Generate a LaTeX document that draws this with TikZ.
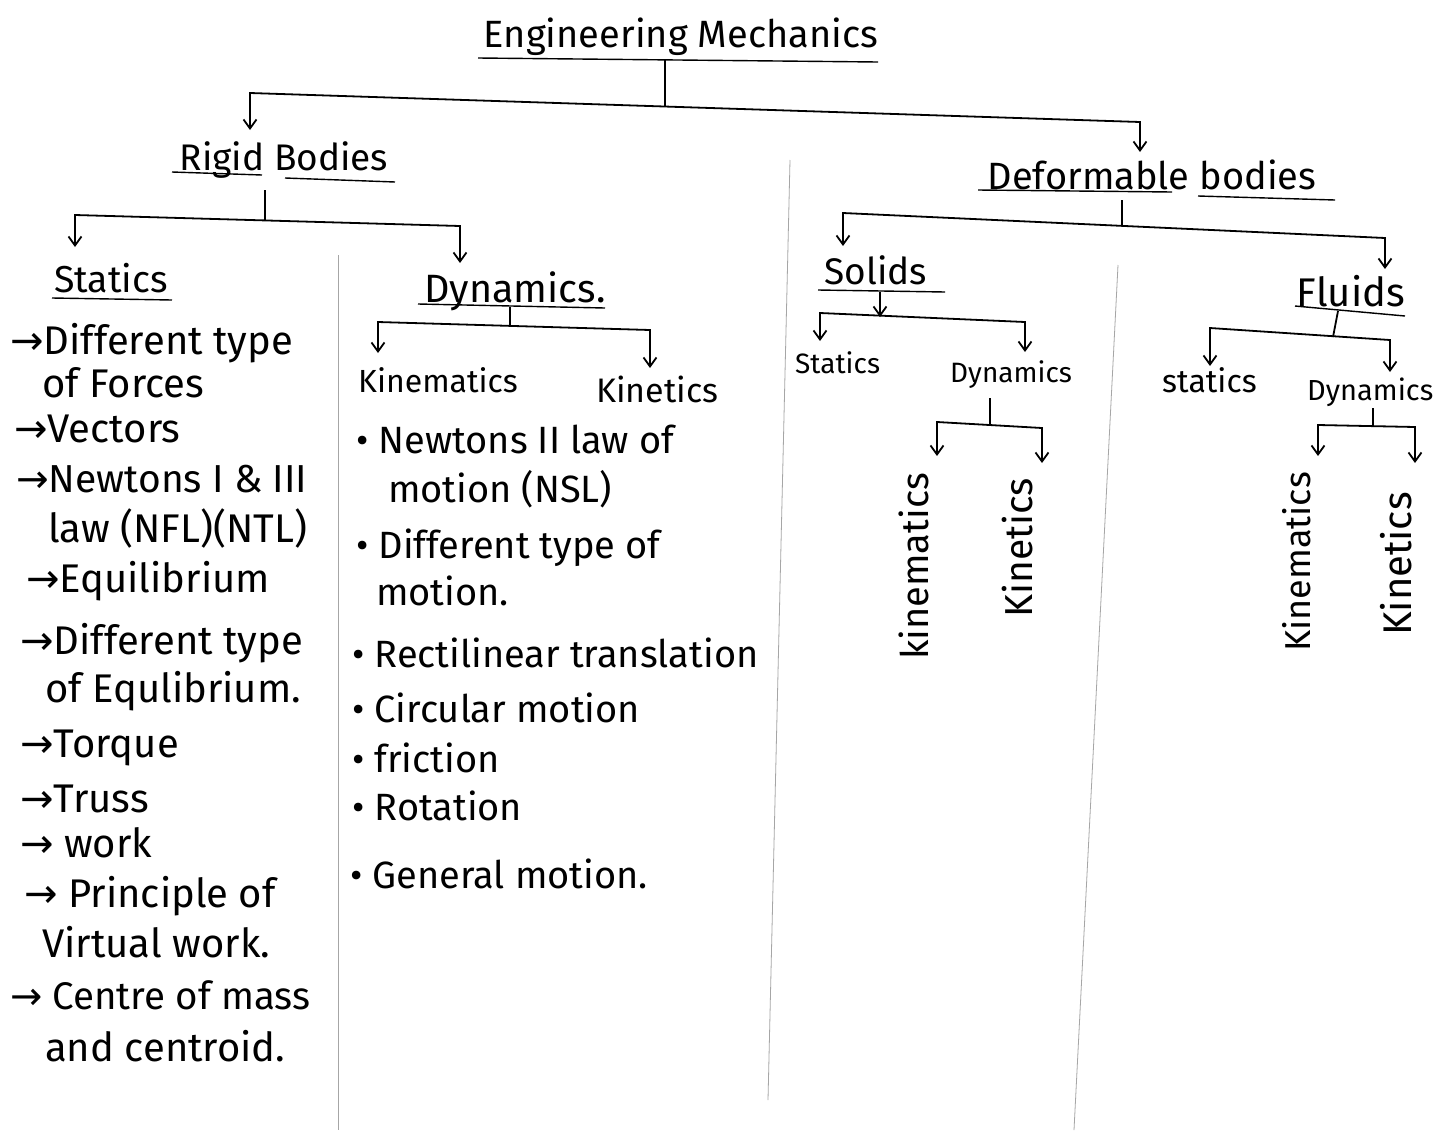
\documentclass[tikz,border=0pt]{standalone}
\usepackage{fontspec}
\setmainfont{Fira Sans}
\newfontfamily\arrfont{DejaVu Sans}
\newcommand{\rarr}{{\arrfont →}}
\usetikzlibrary{arrows.meta}
\begin{document}
\begin{tikzpicture}[x=1pt,y=-1pt,
  txt/.style={inner sep=0pt, anchor=mid west, font=\fontsize{#1}{#1}\selectfont},
  ctr/.style={inner sep=0pt, anchor=mid, font=\fontsize{#1}{#1}\selectfont},
  vtxt/.style={inner sep=0pt, anchor=mid west, rotate=90, font=\fontsize{#1}{#1}\selectfont},
  ink/.style={line width=1.8pt, black},
  uline/.style={line width=1.4pt, black},
  sep/.style={line width=0.8pt, black!35},
  tip/.style={ink, -{Straight Barb[length=9pt,width=13pt]}},
  twotip/.style={ink, {Straight Barb[length=9pt,width=13pt]}-{Straight Barb[length=9pt,width=13pt]}}
]
\fill[white] (0,0) rectangle (1454,1130);
\useasboundingbox (0,0) rectangle (1454,1130);

% separators
\draw[sep] (338,255) -- (338,1130);
\draw[sep] (790,160) -- (768,1100);
\draw[sep] (1118,265) -- (1074,1130);

% headings
\node[ctr=38] (em) at (681,45) {Engineering Mechanics};
\node[ctr=37] (rb) at (284,168) {Rigid Bodies};
\node[ctr=38] (db) at (1152,187) {Deformable bodies};
\node[ctr=37.5] (st) at (111,290) {Statics};
\node[ctr=39.5] (dy) at (515,300) {Dynamics.};
\node[txt=32] (km) at (358,390) {Kinematics};
\node[txt=34] (kt) at (596,400) {Kinetics};
\node[ctr=37] (so) at (876,282) {Solids};
\node[ctr=40] (fl) at (1351,304) {Fluids};
\node[txt=28] (sost) at (795,371) {Statics};
\node[txt=28] (sody) at (950,380) {Dynamics};
\node[txt=32] (flst) at (1162,390) {statics};
\node[txt=29] (fldy) at (1307,398) {Dynamics};
\node[vtxt=38] (sokm) at (926,660) {kinematics};
\node[vtxt=39] (sokt) at (1030,618) {Kinetics};
\node[vtxt=36] (flkm) at (1308,652) {Kinematics};
\node[vtxt=40] (flkt) at (1409,636) {Kinetics};

% underlines
\draw[uline] (478,58) -- (878,62);
\draw[uline] (172,172) -- (262,175);
\draw[uline] (285,178) -- (395,182);
\draw[uline] (52,298) -- (172,300);
\draw[uline] (418,304) -- (605,308);
\draw[uline] (978,190) -- (1172,192);
\draw[uline] (1198,196) -- (1335,200);
\draw[uline] (818,290) -- (945,292);
\draw[uline] (1295,306) -- (1405,316);

% statics list
\node[txt=40] (l1) at (10,352) {\rarr Different type};
\node[txt=40] (l2) at (42,395) {of Forces};
\node[txt=40] (l3) at (14,440) {\rarr Vectors};
\node[txt=39] (l4) at (16,490) {\rarr Newtons I \& III};
\node[txt=40] (l5) at (48,540) {law (NFL)(NTL)};
\node[txt=40] (l6) at (26,590) {\rarr Equilibrium};
\node[txt=40] (l7) at (20,652) {\rarr Different type};
\node[txt=40] (l8) at (45,700) {of Equlibrium.};
\node[txt=40] (l9) at (20,755) {\rarr Torque};
\node[txt=40] (l10) at (20,810) {\rarr Truss};
\node[txt=40] (l11) at (20,855) {\rarr\ work};
\node[txt=40] (l12) at (24,905) {\rarr\ Principle of};
\node[txt=40] (l13) at (42,955) {Virtual work.};
\node[txt=38.5] (l14) at (10,1007) {\rarr\ Centre of mass};
\node[txt=40] (l15) at (45,1059) {and centroid.};

% dynamics list
\node[txt=38] (m1) at (356,451) {• Newtons II law of};
\node[txt=38] (m2) at (388,500) {motion (NSL)};
\node[txt=38] (m3) at (356,556) {• Different type of};
\node[txt=38] (m4) at (376,603) {motion.};
\node[txt=38] (m5) at (352,665) {• Rectilinear translation};
\node[txt=38] (m6) at (352,720) {• Circular motion};
\node[txt=38] (m7) at (352,770) {• friction};
\node[txt=38] (m8) at (352,818) {• Rotation};
\node[txt=38] (m9) at (350,886) {• General motion.};

% connector coordinates
\coordinate (emU) at (665,60);
\coordinate (emJ) at (665,106);
\coordinate (rbA) at (250,93);   \coordinate (rbT) at (250,130);
\coordinate (dbA) at (1140,122); \coordinate (dbT) at (1140,152);

\coordinate (rbU) at (265,190);  \coordinate (rbJ) at (265,220);
\coordinate (stA) at (75,215);   \coordinate (stT) at (75,247);
\coordinate (dyA) at (460,226);  \coordinate (dyT) at (460,263);

\coordinate (dyU) at (510,307);  \coordinate (dyJ) at (510,326);
\coordinate (kmA) at (378,322);  \coordinate (kmT) at (378,353);
\coordinate (ktA) at (650,330);  \coordinate (ktT) at (650,368);

\coordinate (dbU) at (1122,200); \coordinate (dbJ) at (1122,226);
\coordinate (soA) at (843,213);  \coordinate (soT) at (843,246);
\coordinate (flA) at (1385,238); \coordinate (flT) at (1385,269);

\coordinate (soU) at (880,292);  \coordinate (soJ) at (880,317);
\coordinate (sostA) at (820,313); \coordinate (sostT) at (820,341);
\coordinate (sodyA) at (1025,322); \coordinate (sodyT) at (1025,352);

\coordinate (flU) at (1338,311); \coordinate (flJ) at (1333,337);
\coordinate (flstA) at (1210,328); \coordinate (flstT) at (1210,366);
\coordinate (fldyA) at (1390,340); \coordinate (fldyT) at (1390,372);

\coordinate (sodyU) at (990,398); \coordinate (sodyJ) at (990,425);
\coordinate (sokmA) at (937,422); \coordinate (sokmT) at (937,456);
\coordinate (soktA) at (1042,428); \coordinate (soktT) at (1042,463);

\coordinate (fldyU) at (1373,408); \coordinate (fldyJ) at (1373,426);
\coordinate (flkmA) at (1318,425); \coordinate (flkmT) at (1318,456);
\coordinate (flktA) at (1415,427); \coordinate (flktT) at (1415,463);

% connectors
\draw[ink] (emU) -- (emJ);
\draw[twotip] (rbT) -- (rbA) -- (dbA) -- (dbT);

\draw[ink] (rbU) -- (rbJ);
\draw[twotip] (stT) -- (stA) -- (dyA) -- (dyT);

\draw[ink] (dyU) -- (dyJ);
\draw[twotip] (kmT) -- (kmA) -- (ktA) -- (ktT);

\draw[ink] (dbU) -- (dbJ);
\draw[twotip] (soT) -- (soA) -- (flA) -- (flT);

\draw[tip] (soU) -- (soJ);
\draw[twotip] (sostT) -- (sostA) -- (sodyA) -- (sodyT);

\draw[ink] (flU) -- (flJ);
\draw[twotip] (flstT) -- (flstA) -- (fldyA) -- (fldyT);

\draw[ink] (sodyU) -- (sodyJ);
\draw[twotip] (sokmT) -- (sokmA) -- (soktA) -- (soktT);

\draw[ink] (fldyU) -- (fldyJ);
\draw[twotip] (flkmT) -- (flkmA) -- (flktA) -- (flktT);
\end{tikzpicture}
\end{document}
